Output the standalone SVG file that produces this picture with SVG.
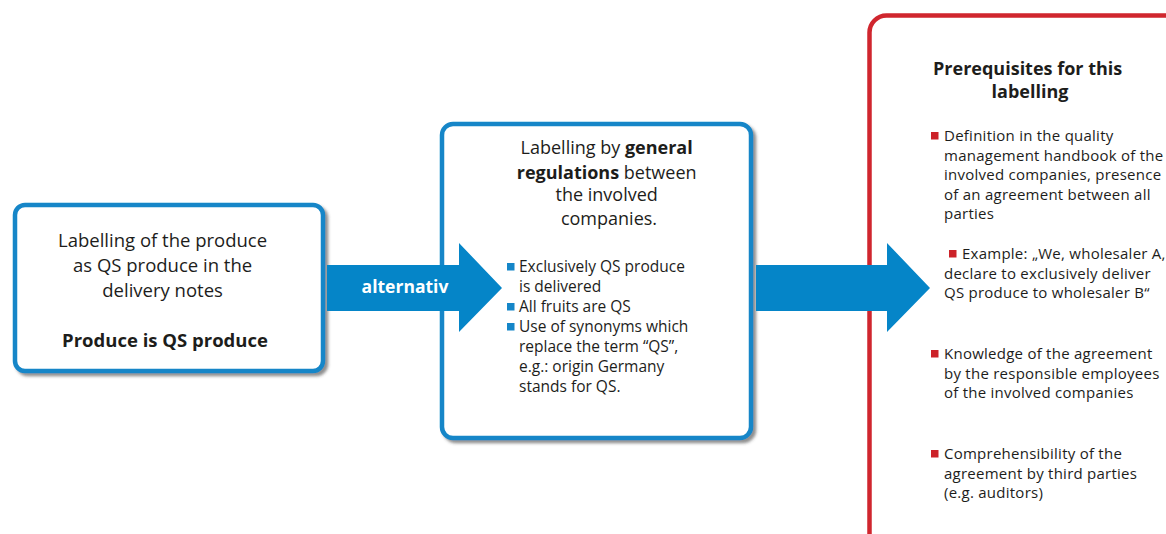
<svg xmlns="http://www.w3.org/2000/svg" width="1166" height="534" viewBox="0 0 1166 534">
<defs>
<filter id="sh" x="-5%" y="-5%" width="115%" height="115%">
<feDropShadow dx="3" dy="3" stdDeviation="1.5" flood-color="#444" flood-opacity="0.6"/>
</filter>
<style>
.bbox{fill:#fff;stroke:#1586c8;stroke-width:4.5;filter:url(#sh)}
.rbox{fill:#fff;stroke:#d0262e;stroke-width:4.5}
.arr{fill:#0585c8}
.t{font-family:"Open Sans","Noto Sans",sans-serif;fill:#1d1d1b}
.b{font-weight:bold}
.h1{font-size:18.5px}
.h2{font-size:18px}
.li{font-size:15.5px}
.ri{font-size:15px;letter-spacing:0.25px}
.bs{fill:#1586c8}
.rs{fill:#cc2229}
</style>
</defs>
<rect width="1166" height="534" fill="#fff"/>

<g id="node-left">
<rect class="bbox" x="15" y="205" width="308" height="166" rx="10"/>
<text class="t h1" text-anchor="middle">
<tspan x="165" y="247">Labelling of the produce</tspan>
<tspan x="165" y="272">as QS produce in the</tspan>
<tspan x="165" y="297">delivery notes</tspan>
<tspan class="b" x="165" y="347">Produce is QS produce</tspan>
</text>
</g>

<g id="node-middle">
<rect class="bbox" x="442" y="124" width="309" height="314" rx="11"/>
<text class="t h2" text-anchor="middle">
<tspan x="609" y="154">Labelling by <tspan class="b">general</tspan></tspan>
<tspan x="609" y="179"><tspan class="b">regulations</tspan> between</tspan>
<tspan x="609" y="201">the involved</tspan>
<tspan x="609" y="225">companies.</tspan>
</text>
<rect class="bs" x="507" y="263" width="7.5" height="7.5"/>
<rect class="bs" x="507" y="303" width="7.5" height="7.5"/>
<rect class="bs" x="507" y="323" width="7.5" height="7.5"/>
<text class="t li">
<tspan x="519" y="272">Exclusively QS produce</tspan>
<tspan x="519" y="292">is delivered</tspan>
<tspan x="519" y="312">All fruits are QS</tspan>
<tspan x="519" y="332">Use of synonyms which</tspan>
<tspan x="519" y="352">replace the term “QS”,</tspan>
<tspan x="519" y="372">e.g.: origin Germany</tspan>
<tspan x="519" y="392">stands for QS.</tspan>
</text>
</g>

<g id="node-right">
<rect class="rbox" x="869.5" y="15.5" width="330" height="540" rx="17"/>
<text class="t b" font-size="18" text-anchor="middle">
<tspan x="1030" y="75">Prerequisites for this</tspan>
<tspan x="1030" y="98">labelling</tspan>
</text>
<rect class="rs" x="931" y="132" width="7.5" height="7.5"/>
<rect class="rs" x="949" y="250" width="7.5" height="7.5"/>
<rect class="rs" x="931" y="350" width="7.5" height="7.5"/>
<rect class="rs" x="931" y="450" width="7.5" height="7.5"/>
<text class="t ri">
<tspan x="944" y="141">Definition in the quality</tspan>
<tspan x="944" y="160.5">management handbook of the</tspan>
<tspan x="944" y="180">involved companies, presence</tspan>
<tspan x="944" y="199.5">of an agreement between all</tspan>
<tspan x="944" y="219">parties</tspan>
<tspan x="962" y="259">Example: „We, wholesaler A,</tspan>
<tspan x="944" y="278.5">declare to exclusively deliver</tspan>
<tspan x="944" y="298">QS produce to wholesaler B“</tspan>
<tspan x="944" y="359">Knowledge of the agreement</tspan>
<tspan x="944" y="378.5">by the responsible employees</tspan>
<tspan x="944" y="398">of the involved companies</tspan>
<tspan x="944" y="459">Comprehensibility of the</tspan>
<tspan x="944" y="478.5">agreement by third parties</tspan>
<tspan x="944" y="498">(e.g. auditors)</tspan>
</text>
</g>

<g id="connectors">
<polygon class="arr" points="327,265 459,265 459,243 502,288 459,332 459,311 327,311"/>
<text class="t b" font-size="17.5" style="fill:#fff" x="405" y="293" text-anchor="middle">alternativ</text>
<polygon class="arr" points="756,265 887,265 887,243 930,288 887,332 887,311 756,311"/>
</g>
</svg>
